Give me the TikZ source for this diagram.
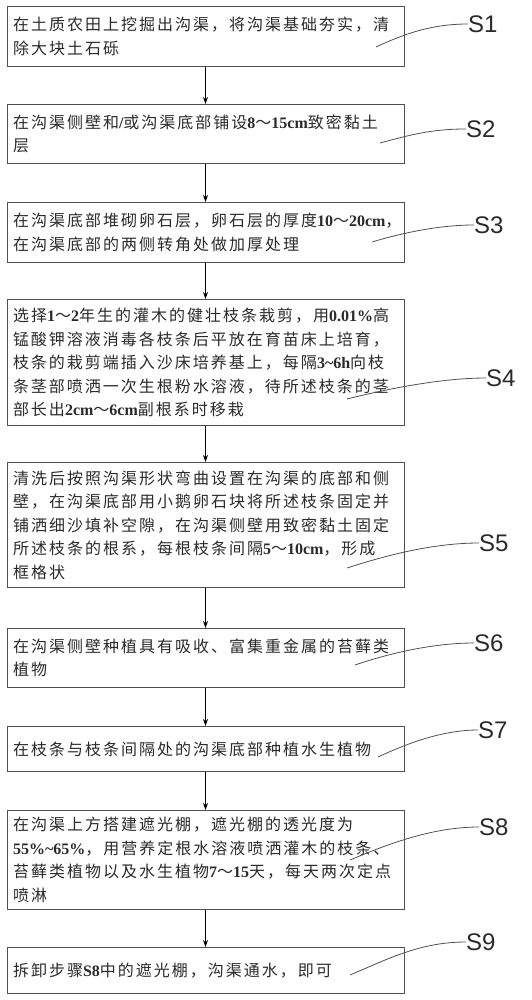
\documentclass[tikz,border=0pt]{standalone}
\usepackage{fontspec}
\setmainfont{Noto Sans CJK SC}[LetterSpace=12.5]
\newfontfamily\enfontx{Liberation Serif}
\newfontfamily\labfontx{Liberation Sans}
\newcommand\myen[1]{{\enfontx\bfseries #1}}
\usetikzlibrary{arrows.meta}
\definecolor{boxline}{HTML}{505050}
\definecolor{txt}{HTML}{2A2A2A}
\tikzset{
 stepbox/.style={draw=boxline, line width=0.9pt, text width=385pt, inner xsep=6pt, inner ysep=0pt,
   align=left, anchor=north, font=\fontsize{16}{23.5}\selectfont, text=txt},
 flow/.style={-{Stealth[length=7pt,width=5pt]}, line width=0.8pt, black},
 leader/.style={draw=boxline, line width=0.8pt},
 steplabel/.style={font=\labfontx\fontsize{24}{24}\selectfont, inner sep=0pt, text=txt}
}
\begin{document}
\begin{tikzpicture}[x=1pt,y=-1pt]
\useasboundingbox (0,0) rectangle (531,1000);
% boxes
\node[stepbox, minimum height=60pt] (b1) at (205.5,6) {在土质农田上挖掘出沟渠，将沟渠基础夯实，清\\除大块土石砾};
\node[stepbox, minimum height=59pt] (b2) at (205.5,104) {在沟渠侧壁和\myen{/}或沟渠底部铺设\myen{8}～\myen{15cm}致密黏土\\层};
\node[stepbox, minimum height=60pt] (b3) at (205.5,202) {在沟渠底部堆砌卵石层，卵石层的厚度\myen{10}～\myen{20cm}，\\在沟渠底部的两侧转角处做加厚处理};
\node[stepbox, minimum height=126pt] (b4) at (205.5,299) {选择\myen{1}～\myen{2}年生的灌木的健壮枝条栽剪，用\myen{0.01\%}高\\锰酸钾溶液消毒各枝条后平放在育苗床上培育，\\枝条的栽剪端插入沙床培养基上，每隔\myen{3\textasciitilde6h}向枝\\条茎部喷洒一次生根粉水溶液，待所述枝条的茎\\部长出\myen{2cm}～\myen{6cm}副根系时移栽};
\node[stepbox, minimum height=125pt] (b5) at (205.5,462) {清洗后按照沟渠形状弯曲设置在沟渠的底部和侧\\壁，在沟渠底部用小鹅卵石块将所述枝条固定并\\铺洒细沙填补空隙，在沟渠侧壁用致密黏土固定\\所述枝条的根系，每根枝条间隔\myen{5}～\myen{10cm}，形成\\框格状};
\node[stepbox, minimum height=59pt] (b6) at (205.5,628) {在沟渠侧壁种植具有吸收、富集重金属的苔藓类\\植物};
\node[stepbox, minimum height=45pt] (b7) at (205.5,726) {在枝条与枝条间隔处的沟渠底部种植水生植物};
\node[stepbox, minimum height=99pt] (b8) at (205.5,810) {在沟渠上方搭建遮光棚，遮光棚的透光度为\\\myen{55\%\textasciitilde65\%}，用营养定根水溶液喷洒灌木的枝条、\\苔藓类植物以及水生植物\myen{7}～\myen{15}天，每天两次定点\\喷淋};
\node[stepbox, minimum height=46pt] (b9) at (205.5,947) {拆卸步骤\myen{S8}中的遮光棚，沟渠通水，即可};
% flow arrows
\draw[flow] (b1) -- (b2);
\draw[flow] (b2) -- (b3);
\draw[flow] (b3) -- (b4);
\draw[flow] (b4) -- (b5);
\draw[flow] (b5) -- (b6);
\draw[flow] (b6) -- (b7);
\draw[flow] (b7) -- (b8);
\draw[flow] (b8) -- (b9);
% labels
\node[steplabel, anchor=west] (l1) at (468,24) {S1};
\node[steplabel, anchor=west] (l2) at (466,129) {S2};
\node[steplabel, anchor=west] (l3) at (474,225) {S3};
\node[steplabel, anchor=west] (l4) at (486,378) {S4};
\node[steplabel, anchor=west] (l5) at (479,543) {S5};
\node[steplabel, anchor=west] (l6) at (474,643) {S6};
\node[steplabel, anchor=west] (l7) at (478,730) {S7};
\node[steplabel, anchor=west] (l8) at (479,827) {S8};
\node[steplabel, anchor=west] (l9) at (466,942) {S9};
% leader start points
\coordinate (p1) at (376,47);
\coordinate (p2) at (380,143);
\coordinate (p3) at (372,242);
\coordinate (p4) at (347,399);
\coordinate (p5) at (347,568);
\coordinate (p6) at (355,665);
\coordinate (p7) at (378,757);
\coordinate (p8) at (350,860);
\coordinate (p9) at (350,975);
\draw[leader] (p1) .. controls +(30,-14) and +(-35,0) .. (l1.west);
\draw[leader] (p2) .. controls +(30,-8) and +(-35,0) .. (l2.west);
\draw[leader] (p3) .. controls +(30,-9) and +(-35,0) .. (l3.west);
\draw[leader] (p4) .. controls +(40,-10) and +(-45,0) .. (l4.west);
\draw[leader] (p5) .. controls +(40,-13) and +(-45,0) .. (l5.west);
\draw[leader] (p6) .. controls +(35,-12) and +(-40,0) .. (l6.west);
\draw[leader] (p7) .. controls +(30,-14) and +(-35,0) .. (l7.west);
\draw[leader] (p8) .. controls +(40,-17) and +(-45,0) .. (l8.west);
\draw[leader] (p9) .. controls +(40,-17) and +(-45,0) .. (l9.west);
\end{tikzpicture}
\end{document}
